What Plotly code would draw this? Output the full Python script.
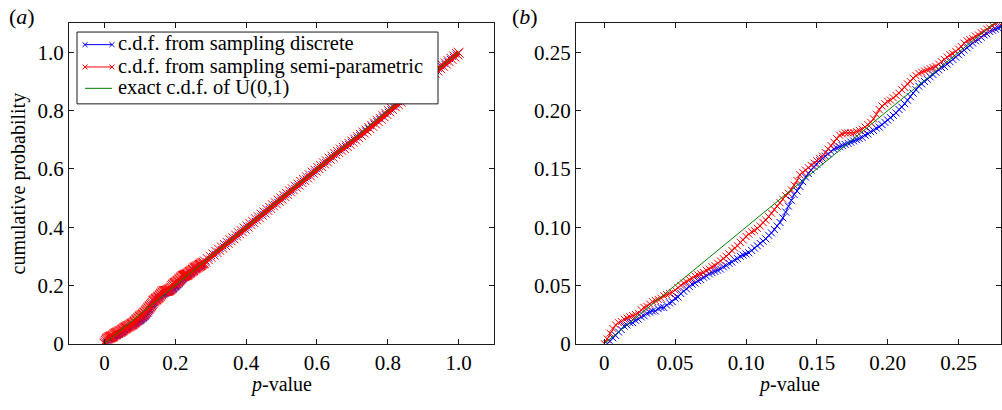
import plotly.graph_objects as go

disc_p = [0.002, 0.004, 0.006, 0.008, 0.010, 0.012, 0.014, 0.016, 0.018, 0.020,
          0.022, 0.024, 0.026, 0.028, 0.030, 0.032, 0.034, 0.036, 0.038, 0.040,
          0.042, 0.044, 0.046, 0.048, 0.050, 0.052, 0.054, 0.056, 0.058, 0.060,
          0.062, 0.064, 0.066, 0.068, 0.070, 0.072, 0.074, 0.076, 0.078, 0.080,
          0.082, 0.084, 0.086, 0.088, 0.090, 0.092, 0.094, 0.096, 0.098, 0.100,
          0.102, 0.104, 0.106, 0.108, 0.110, 0.112, 0.114, 0.116, 0.118, 0.120,
          0.122, 0.124, 0.126, 0.128, 0.130, 0.132, 0.134, 0.136, 0.138, 0.140,
          0.142, 0.144, 0.146, 0.148, 0.150, 0.152, 0.154, 0.156, 0.158, 0.160,
          0.162, 0.164, 0.166, 0.168, 0.170, 0.172, 0.174, 0.176, 0.178, 0.180,
          0.182, 0.184, 0.186, 0.188, 0.190, 0.192, 0.194, 0.196, 0.198, 0.200,
          0.202, 0.204, 0.206, 0.208, 0.210, 0.212, 0.214, 0.216, 0.218, 0.220,
          0.222, 0.224, 0.226, 0.228, 0.230, 0.232, 0.234, 0.236, 0.238, 0.240,
          0.242, 0.244, 0.246, 0.248, 0.250, 0.252, 0.254, 0.256, 0.258, 0.260,
          0.262, 0.264, 0.266, 0.268, 0.270, 0.272, 0.274, 0.276, 0.278, 0.280,
          0.288, 0.296, 0.304, 0.312, 0.320, 0.328, 0.336, 0.344, 0.352, 0.360,
          0.368, 0.376, 0.384, 0.392, 0.400, 0.408, 0.416, 0.424, 0.432, 0.440,
          0.448, 0.456, 0.464, 0.472, 0.480, 0.488, 0.496, 0.504, 0.512, 0.520,
          0.528, 0.536, 0.544, 0.552, 0.560, 0.568, 0.576, 0.584, 0.592, 0.600,
          0.608, 0.616, 0.624, 0.632, 0.640, 0.648, 0.656, 0.664, 0.672, 0.680,
          0.688, 0.696, 0.704, 0.712, 0.720, 0.728, 0.736, 0.744, 0.752, 0.760,
          0.768, 0.776, 0.784, 0.792, 0.800, 0.808, 0.816, 0.824, 0.832, 0.840,
          0.848, 0.856, 0.864, 0.872, 0.880, 0.888, 0.896, 0.904, 0.912, 0.920,
          0.928, 0.936, 0.944, 0.952, 0.960, 0.968, 0.976, 0.984, 0.992, 1.000]
disc_cdf = [0.000, 0.002, 0.005, 0.007, 0.010, 0.012, 0.015, 0.016, 0.018, 0.018,
            0.020, 0.021, 0.023, 0.024, 0.026, 0.027, 0.028, 0.028, 0.030, 0.031,
            0.031, 0.033, 0.035, 0.036, 0.039, 0.040, 0.043, 0.045, 0.047, 0.049,
            0.051, 0.052, 0.054, 0.055, 0.057, 0.058, 0.060, 0.061, 0.062, 0.063,
            0.064, 0.066, 0.067, 0.069, 0.070, 0.072, 0.073, 0.075, 0.076, 0.077,
            0.078, 0.080, 0.082, 0.084, 0.086, 0.088, 0.090, 0.093, 0.095, 0.098,
            0.101, 0.104, 0.108, 0.113, 0.118, 0.123, 0.128, 0.131, 0.135, 0.139,
            0.143, 0.146, 0.149, 0.152, 0.154, 0.157, 0.159, 0.161, 0.163, 0.165,
            0.167, 0.168, 0.169, 0.170, 0.171, 0.172, 0.173, 0.174, 0.175, 0.176,
            0.177, 0.179, 0.180, 0.182, 0.183, 0.185, 0.186, 0.188, 0.190, 0.192,
            0.194, 0.196, 0.198, 0.201, 0.203, 0.206, 0.209, 0.212, 0.215, 0.218,
            0.221, 0.223, 0.225, 0.227, 0.229, 0.231, 0.233, 0.235, 0.237, 0.238,
            0.240, 0.242, 0.244, 0.246, 0.248, 0.250, 0.252, 0.254, 0.256, 0.258,
            0.260, 0.261, 0.263, 0.265, 0.266, 0.268, 0.269, 0.270, 0.271, 0.272,
            0.282, 0.292, 0.301, 0.309, 0.317, 0.325, 0.334, 0.342, 0.350, 0.358,
            0.366, 0.374, 0.383, 0.391, 0.398, 0.406, 0.414, 0.422, 0.431, 0.439,
            0.446, 0.454, 0.462, 0.470, 0.479, 0.487, 0.495, 0.503, 0.510, 0.518,
            0.526, 0.535, 0.543, 0.551, 0.559, 0.567, 0.575, 0.583, 0.591, 0.599,
            0.607, 0.615, 0.623, 0.631, 0.640, 0.648, 0.655, 0.663, 0.671, 0.678,
            0.685, 0.693, 0.700, 0.708, 0.716, 0.724, 0.732, 0.740, 0.748, 0.756,
            0.764, 0.772, 0.780, 0.788, 0.796, 0.804, 0.813, 0.821, 0.829, 0.837,
            0.846, 0.854, 0.862, 0.870, 0.879, 0.887, 0.895, 0.903, 0.911, 0.920,
            0.928, 0.936, 0.944, 0.952, 0.961, 0.969, 0.977, 0.985, 0.993, 0.999]

semi_p = [0.000, 0.002, 0.004, 0.006, 0.008, 0.010, 0.012, 0.014, 0.016, 0.018,
          0.020, 0.022, 0.024, 0.026, 0.028, 0.030, 0.032, 0.034, 0.036, 0.038,
          0.040, 0.042, 0.044, 0.046, 0.048, 0.050, 0.052, 0.054, 0.056, 0.058,
          0.060, 0.062, 0.064, 0.066, 0.068, 0.070, 0.072, 0.074, 0.076, 0.078,
          0.080, 0.082, 0.084, 0.086, 0.088, 0.090, 0.092, 0.094, 0.096, 0.098,
          0.100, 0.102, 0.104, 0.106, 0.108, 0.110, 0.112, 0.114, 0.116, 0.118,
          0.120, 0.122, 0.124, 0.126, 0.128, 0.130, 0.132, 0.134, 0.136, 0.138,
          0.140, 0.142, 0.144, 0.146, 0.148, 0.150, 0.152, 0.154, 0.156, 0.158,
          0.160, 0.162, 0.164, 0.166, 0.168, 0.170, 0.172, 0.174, 0.176, 0.178,
          0.180, 0.182, 0.184, 0.186, 0.188, 0.190, 0.192, 0.194, 0.196, 0.198,
          0.200, 0.202, 0.204, 0.206, 0.208, 0.210, 0.212, 0.214, 0.216, 0.218,
          0.220, 0.222, 0.224, 0.226, 0.228, 0.230, 0.232, 0.234, 0.236, 0.238,
          0.240, 0.242, 0.244, 0.246, 0.248, 0.250, 0.252, 0.254, 0.256, 0.258,
          0.260, 0.262, 0.264, 0.266, 0.268, 0.270, 0.272, 0.274, 0.276, 0.278,
          0.280, 0.284, 0.292, 0.300, 0.308, 0.316, 0.324, 0.332, 0.340, 0.348,
          0.356, 0.364, 0.372, 0.380, 0.388, 0.396, 0.404, 0.412, 0.420, 0.428,
          0.436, 0.444, 0.452, 0.460, 0.468, 0.476, 0.484, 0.492, 0.500, 0.508,
          0.516, 0.524, 0.532, 0.540, 0.548, 0.556, 0.564, 0.572, 0.580, 0.588,
          0.596, 0.604, 0.612, 0.620, 0.628, 0.636, 0.644, 0.652, 0.660, 0.668,
          0.676, 0.684, 0.692, 0.700, 0.708, 0.716, 0.724, 0.732, 0.740, 0.748,
          0.756, 0.764, 0.772, 0.780, 0.788, 0.796, 0.804, 0.812, 0.820, 0.828,
          0.836, 0.844, 0.852, 0.860, 0.868, 0.876, 0.884, 0.892, 0.900, 0.908,
          0.916, 0.924, 0.932, 0.940, 0.948, 0.956, 0.964, 0.972, 0.980, 0.988,
          0.996, 1.000]
semi_cdf = [0.000, 0.004, 0.009, 0.013, 0.016, 0.018, 0.019, 0.021, 0.022, 0.023,
            0.024, 0.025, 0.026, 0.029, 0.031, 0.032, 0.034, 0.036, 0.037, 0.038,
            0.039, 0.041, 0.042, 0.043, 0.044, 0.046, 0.048, 0.050, 0.052, 0.053,
            0.055, 0.056, 0.058, 0.059, 0.060, 0.061, 0.063, 0.064, 0.066, 0.067,
            0.069, 0.071, 0.073, 0.075, 0.077, 0.080, 0.082, 0.084, 0.087, 0.089,
            0.092, 0.094, 0.096, 0.097, 0.099, 0.101, 0.104, 0.106, 0.109, 0.112,
            0.115, 0.118, 0.121, 0.124, 0.127, 0.129, 0.132, 0.136, 0.140, 0.145,
            0.147, 0.149, 0.151, 0.153, 0.155, 0.157, 0.159, 0.161, 0.164, 0.167,
            0.170, 0.173, 0.176, 0.179, 0.180, 0.181, 0.181, 0.181, 0.181, 0.182,
            0.183, 0.184, 0.186, 0.188, 0.190, 0.193, 0.197, 0.201, 0.204, 0.206,
            0.208, 0.209, 0.211, 0.213, 0.215, 0.218, 0.220, 0.223, 0.225, 0.228,
            0.230, 0.232, 0.233, 0.234, 0.235, 0.236, 0.237, 0.238, 0.240, 0.242,
            0.244, 0.246, 0.248, 0.249, 0.251, 0.253, 0.255, 0.258, 0.260, 0.261,
            0.262, 0.264, 0.265, 0.267, 0.268, 0.270, 0.271, 0.273, 0.275, 0.276,
            0.278, 0.282, 0.290, 0.298, 0.306, 0.315, 0.322, 0.330, 0.339, 0.346,
            0.355, 0.362, 0.371, 0.379, 0.386, 0.395, 0.402, 0.411, 0.418, 0.427,
            0.434, 0.443, 0.450, 0.459, 0.466, 0.475, 0.482, 0.491, 0.498, 0.507,
            0.514, 0.523, 0.530, 0.539, 0.546, 0.555, 0.562, 0.571, 0.578, 0.587,
            0.594, 0.603, 0.610, 0.619, 0.626, 0.635, 0.642, 0.651, 0.658, 0.666,
            0.672, 0.679, 0.686, 0.694, 0.701, 0.709, 0.717, 0.725, 0.732, 0.740,
            0.748, 0.756, 0.764, 0.772, 0.781, 0.789, 0.798, 0.806, 0.815, 0.823,
            0.831, 0.840, 0.848, 0.856, 0.865, 0.873, 0.881, 0.890, 0.898, 0.906,
            0.914, 0.922, 0.930, 0.938, 0.946, 0.954, 0.962, 0.970, 0.978, 0.986,
            0.994, 0.999]

exact_p = [0.0, 1.0]
exact_cdf = [0.0, 1.0]

left_ticks = [0, 0.2, 0.4, 0.6, 0.8, 1.0]
left_labels = ["0", "0.2", "0.4", "0.6", "0.8", "1.0"]
right_ticks = [0, 0.05, 0.10, 0.15, 0.20, 0.25]
right_labels = ["0", "0.05", "0.10", "0.15", "0.20", "0.25"]

legend_names = ["c.d.f. from sampling discrete",
                "c.d.f. from sampling semi-parametric",
                "exact c.d.f. of U(0,1)"]

FONT = "Liberation Serif, Times New Roman, Times, DejaVu Serif, serif"
BLUE = "#0000ff"
RED = "#ff0000"
GREEN = "#008000"
AX = "#1a1a1a"

fig = go.Figure()

# (axis x, axis y, blue marker size, red marker size, blue line width, red line width)
panels = [("x", "y", 6, 10, 2, 5), ("x2", "y2", 7, 7, 1, 1)]
for xa, ya, msb, msr, lwb, lwr in panels:
    fig.add_trace(go.Scatter(
        x=disc_p, y=disc_cdf, mode="lines+markers", xaxis=xa, yaxis=ya,
        name=legend_names[0], showlegend=False,
        line=dict(color=BLUE, width=lwb),
        marker=dict(symbol="x-thin", size=msb, line=dict(color=BLUE, width=1))))
    fig.add_trace(go.Scatter(
        x=semi_p, y=semi_cdf, mode="lines+markers", xaxis=xa, yaxis=ya,
        name=legend_names[1], showlegend=False,
        line=dict(color=RED, width=lwr),
        marker=dict(symbol="x-thin", size=msr, line=dict(color=RED, width=1))))
    fig.add_trace(go.Scatter(
        x=exact_p, y=exact_cdf, mode="lines", xaxis=xa, yaxis=ya,
        name=legend_names[2], showlegend=False,
        line=dict(color=GREEN, width=1)))

H = 410.0
W = 1002.0
ydom = [56 / H, 386 / H]

axis_common = dict(showline=True, linecolor=AX, linewidth=1, mirror="ticks",
                   ticks="inside", ticklen=5, tickcolor=AX, showgrid=False,
                   zeroline=False, tickfont=dict(family=FONT, size=21, color="black"))

fig.update_layout(
    width=1002, height=410,
    margin=dict(l=0, r=0, t=0, b=0),
    paper_bgcolor="white", plot_bgcolor="white",
    font=dict(family=FONT, color="black"),
    xaxis=dict(domain=[69 / W, 494 / W], range=[-0.1, 1.1], tickvals=left_ticks,
               ticktext=left_labels, anchor="y", **axis_common),
    yaxis=dict(domain=ydom, range=[0, 1.1], tickvals=left_ticks,
               ticktext=left_labels, anchor="x", **axis_common),
    xaxis2=dict(domain=[576 / W, 1001 / W], range=[-0.02, 0.28], tickvals=right_ticks,
                ticktext=right_labels, anchor="y2", **axis_common),
    yaxis2=dict(domain=ydom, range=[0, 0.275], tickvals=right_ticks,
                ticktext=right_labels, anchor="x2", **axis_common),
    showlegend=False,
    hovermode=False,
)


def px(x):
    return x / W


def py(y):
    return 1 - y / H


# ---- hand-drawn legend box (paper pixel coordinates) ----
shapes = [dict(type="rect", xref="paper", yref="paper", x0=px(77), x1=px(438),
               y0=py(107), y1=py(33), fillcolor="white",
               line=dict(color=AX, width=1), layer="above")]
rows = [(46, BLUE, True), (69, RED, True), (91, GREEN, False)]
for yy, col, mk in rows:
    shapes.append(dict(type="line", xref="paper", yref="paper", x0=px(85), x1=px(112),
                       y0=py(yy), y1=py(yy), line=dict(color=col, width=1), layer="above"))
    if mk:
        for cx in (85, 112):
            for d in (1, -1):
                shapes.append(dict(type="line", xref="paper", yref="paper",
                                   x0=px(cx - 2.5), x1=px(cx + 2.5),
                                   y0=py(yy - 2.5 * d), y1=py(yy + 2.5 * d),
                                   line=dict(color=col, width=1), layer="above"))
fig.update_layout(shapes=shapes)

ann = [
    dict(text="(<i>a</i>)", x=px(7), y=py(17), xanchor="left", yanchor="middle",
         font=dict(size=22)),
    dict(text="(<i>b</i>)", x=px(510), y=py(17), xanchor="left", yanchor="middle",
         font=dict(size=22)),
    dict(text="cumulative probability", x=px(18), y=py(189), textangle=-90,
         xanchor="center", yanchor="middle", font=dict(size=20)),
    dict(text="<i>p</i>-value", x=px(281), y=py(396), xanchor="center",
         yanchor="middle", font=dict(size=20)),
    dict(text="<i>p</i>-value", x=px(789), y=py(396), xanchor="center",
         yanchor="middle", font=dict(size=20)),
]
for (yy, _, _), name in zip(rows, legend_names):
    ann.append(dict(text=name, x=px(116), y=py(yy - 1), xanchor="left",
                    yanchor="middle", font=dict(size=20.5)))
for a in ann:
    a.update(xref="paper", yref="paper", showarrow=False)
    a["font"].update(family=FONT, color="black")
fig.update_layout(annotations=ann)

fig.write_html("out.html", config={"displayModeBar": False},
               post_script="document.body.style.margin='0';document.body.style.padding='0';")
